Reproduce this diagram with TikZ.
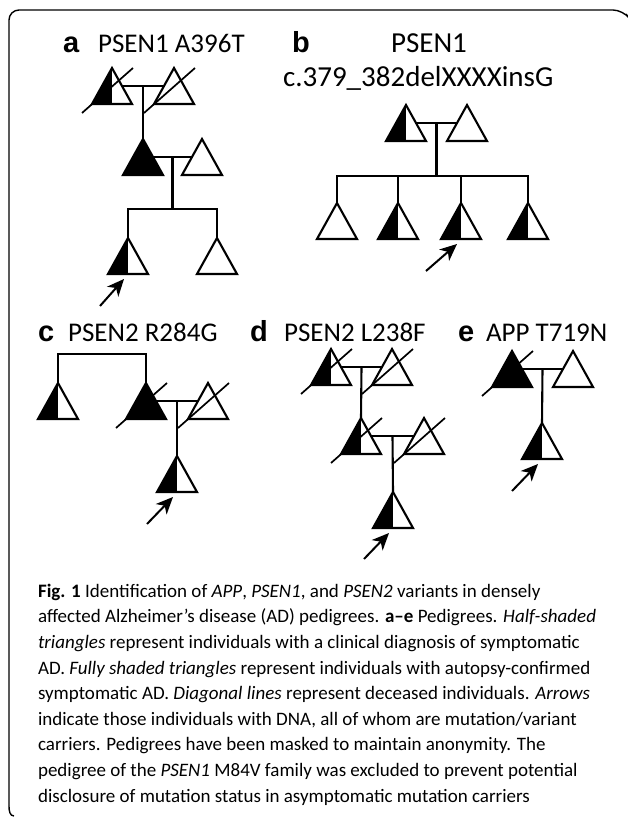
\documentclass[tikz,border=0pt]{standalone}
\usepackage{fontspec}
\setmainfont{Carlito}
\newfontfamily\panelfont{Liberation Sans}
\usetikzlibrary{arrows.meta,calc}
\tikzset{
  unaff/.style={fill=white},
  fullaff/.style={fill=black},
  halfaff/.style={path picture={\fill[black] (path picture bounding box.south west) rectangle (path picture bounding box.north);}},
  pics/indiv/.style={code={
    \draw[#1] (0,0) -- (-20,36) -- (20,36) -- cycle;
    \coordinate (-top) at (0,0);
    \coordinate (-l) at (-10,18);
    \coordinate (-r) at (10,18);
    \coordinate (-dl) at (-30,45);
    \coordinate (-du) at (21,0);
    \coordinate (-foot) at (-4,41);
  }},
  pics/indiv/.default=unaff,
  carrier/.style={-{Stealth[length=17pt,width=15pt,inset=5pt]}, line width=2pt},
  gene/.style={font=\fontsize{27}{30}\selectfont, anchor=base west, inner sep=0},
  panel/.style={font=\panelfont\bfseries\fontsize{29}{30}\selectfont, anchor=base west, inner sep=0},
}
\begin{document}
\begin{tikzpicture}[x=1pt, y=-1pt, line width=2.1pt]
  \useasboundingbox (0,0) rectangle (627,818);
  % frame
  \draw[line width=1.4pt, rounded corners=10pt] (626,14) -- (623,10) -- (9,10) -- (9,806);
  \draw[line width=1.4pt] (9,806) to[out=-90,in=180] (14,816);

  % panel a
  \node[panel] (la) at (62,53) {a};
  \node[gene] (ta) at (97,53) {PSEN1 A396T};
  \pic (a1) at (112,68) {indiv=halfaff};
  \pic (a2) at (174,68) {indiv};
  \pic (a3) at (143,139) {indiv=fullaff};
  \pic (a4) at (202,139) {indiv};
  \pic (a5) at (128,238) {indiv=halfaff};
  \pic (a6) at (217,238) {indiv};
  \draw (a1-r) -- (a2-l);
  \draw ($(a1-r)!.5!(a2-l)$) -- (a3-top);
  \draw (a3-r) -- (a4-l);
  \draw ($(a3-r)!.5!(a4-l)$) -- ++(0,52);
  \draw (a5-top) -- ++(0,-29) -| (a6-top);
  \coordinate (arra) at (100,306);

  % panel b
  \node[panel] (lb) at (291,53) {b};
  \node[gene, font=\fontsize{29}{30}\selectfont] (tb1) at (390,53) {PSEN1};
  \node[gene, font=\fontsize{29}{30}\selectfont] (tb2) at (282,87) {c.379\_382delXXXXinsG};
  \pic (b1) at (406,105) {indiv=halfaff};
  \pic (b2) at (467,105) {indiv};
  \pic (b3) at (337,203) {indiv};
  \pic (b4) at (398,203) {indiv=halfaff};
  \pic (b5) at (461,203) {indiv=halfaff};
  \pic (b6) at (528,203) {indiv=halfaff};
  \draw (b1-r) -- (b2-l);
  \draw ($(b1-r)!.5!(b2-l)$) -- ++(0,53);
  \draw (b3-top) -- ++(0,-27) -| (b6-top);
  \foreach \k in {b4,b5} \draw (\k-top) -- ++(0,-27);
  \coordinate (arrb) at (426,271);

  % panel c
  \node[panel] (lc) at (37,341) {c};
  \node[gene] (tc) at (67,341) {PSEN2 R284G};
  \pic (c1) at (58,383) {indiv=halfaff};
  \pic (c2) at (146,383) {indiv=fullaff};
  \pic (c3) at (208,383) {indiv};
  \pic (c4) at (177,456) {indiv=halfaff};
  \draw (c1-top) -- ++(0,-29) -| (c2-top);
  \draw (c2-r) -- (c3-l);
  \draw ($(c2-r)!.5!(c3-l)$) -- (c4-top);
  \coordinate (arrc) at (147,524);

  % panel d
  \node[panel] (ld) at (249,341) {d};
  \node[gene] (td) at (283,341) {PSEN2 L238F};
  \pic (d1) at (331,349) {indiv=halfaff};
  \pic (d2) at (392,349) {indiv};
  \pic (d3) at (361,418) {indiv=halfaff};
  \pic (d4) at (424,418) {indiv};
  \pic (d5) at (393,492) {indiv=halfaff};
  \draw (d1-r) -- (d2-l);
  \draw ($(d1-r)!.5!(d2-l)$) -- (d3-top);
  \draw (d3-r) -- (d4-l);
  \draw ($(d3-r)!.5!(d4-l)$) -- (d5-top);
  \coordinate (arrd) at (364,559);

  % panel e
  \node[panel] (le) at (457,341) {e};
  \node[gene] (te) at (485,341) {APP T719N};
  \pic (e1) at (512,351) {indiv=fullaff};
  \pic (e2) at (573,351) {indiv};
  \pic (e3) at (542,423) {indiv=halfaff};
  \draw (e1-r) -- (e2-l);
  \draw ($(e1-r)!.5!(e2-l)$) -- (e3-top);
  \coordinate (arre) at (512,491);

  % deceased
  \foreach \k in {a1,a2,c2,c3,d1,d2,d3,d4,e1}
    \draw[line width=1.7pt] (\k-dl) -- (\k-du);
  % DNA available
  \draw[carrier] (arra) -- (a5-foot);
  \draw[carrier] (arrb) -- (b5-foot);
  \draw[carrier] (arrc) -- (c4-foot);
  \draw[carrier] (arrd) -- (d5-foot);
  \draw[carrier] (arre) -- (e3-foot);

  \node[anchor=north west, align=left, inner sep=0, font=\fontsize{19}{25.6}\selectfont] (cap) at (37,583) {%
    \textbf{Fig. 1} Identification of \textit{APP}, \textit{PSEN1}, and \textit{PSEN2} variants in densely\\
    affected Alzheimer’s disease (AD) pedigrees. \textbf{a--e} Pedigrees. \textit{Half-shaded}\\
    \textit{triangles} represent individuals with a clinical diagnosis of symptomatic\\
    AD. \textit{Fully shaded triangles} represent individuals with autopsy-confirmed\\
    symptomatic AD. \textit{Diagonal lines} represent deceased individuals. \textit{Arrows}\\
    indicate those individuals with DNA, all of whom are mutation/variant\\
    carriers. Pedigrees have been masked to maintain anonymity. The\\
    pedigree of the \textit{PSEN1} M84V family was excluded to prevent potential\\
    disclosure of mutation status in asymptomatic mutation carriers};
\end{tikzpicture}
\end{document}
